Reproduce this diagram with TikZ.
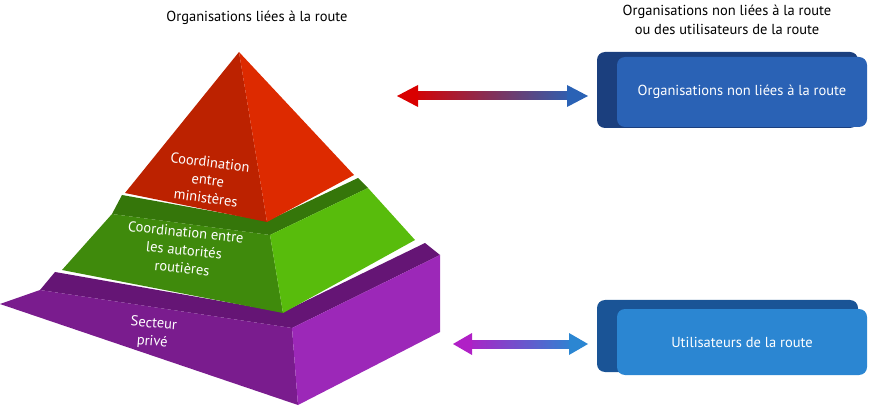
\documentclass[tikz,border=0pt]{standalone}
\usepackage{fontspec}
\setmainfont{PT Sans}
\usetikzlibrary{arrows.meta,shadings}
\definecolor{redL}{HTML}{BC2200}\definecolor{redR}{HTML}{DD2A00}
\definecolor{grnL}{HTML}{3F8A0C}\definecolor{grnR}{HTML}{58BC0C}\definecolor{grnT}{HTML}{35760A}
\definecolor{purL}{HTML}{7A1C8E}\definecolor{purR}{HTML}{9C28B8}\definecolor{purT}{HTML}{651575}
\definecolor{boxA}{HTML}{2A62B5}\definecolor{boxAd}{HTML}{1B3F7E}
\definecolor{boxB}{HTML}{2B86D2}\definecolor{boxBd}{HTML}{1A5496}
\begin{document}
\begin{tikzpicture}[x=1pt,y=-1pt,
  lbl/.style={text=white,font=\fontsize{14.5}{18}\selectfont,align=center,inner sep=0pt},
  ttl/.style={font=\fontsize{14.5}{19}\selectfont,align=center},
  boxfront/.style={rounded corners=8pt}]
\useasboundingbox (0,0) rectangle (876,406);
% purple
\fill[purT] (55,272)--(283,312)--(425,243)--(440,255)--(292,328)--(40,290)--cycle;
\fill[purL] (40,290)--(292,328)--(298,405)--(0,304)--cycle;
\fill[purR] (292,328)--(440,255)--(440,332)--(298,405)--cycle;
% green
\fill[grnT] (122,195)--(267,221)--(358,178)--(368,188)--(270,235)--(112,214)--cycle;
\fill[grnL] (112,214)--(270,235)--(283,313)--(62,270)--cycle;
\fill[grnR] (270,235)--(368,188)--(415,240)--(283,313)--cycle;
% red
\fill[redL] (239,52)--(125,193)--(267,222)--cycle;
\fill[redR] (239,52)--(267,222)--(354,175)--cycle;
\node[lbl,rotate=-7] (t1) at (208,180) {Coordination\\entre\\ministères};
\node[lbl,rotate=-6] (t2) at (184,250) {Coordination entre\\les autorités\\routières};
\node[lbl,rotate=-5] (t3) at (153,333) {Secteur\\privé};
\node[ttl] (h1) at (257,18) {Organisations liées à la route};
\node[ttl] (h2) at (727,20) {Organisations non liées à la route\\ou des utilisateurs de la route};
% boxes
\fill[boxAd,rounded corners=8pt] (597,52) rectangle (858,128);
\node[boxfront,fill=boxA,minimum width=250pt,minimum height=70pt,text=white,font=\fontsize{14.5}{17}\selectfont] (b1) at (742,92) {Organisations non liées à la route};
\fill[boxBd,rounded corners=8pt] (597,300) rectangle (858,372);
\node[boxfront,fill=boxB,minimum width=250pt,minimum height=66pt,text=white,font=\fontsize{14.5}{17}\selectfont] (b2) at (742,342) {Utilisateurs de la route};
% arrows
\shade[left color=red!85!black,right color=boxA] (410,92) rectangle (575,100);
\fill[red!85!black] (397,96)--(418,85)--(418,107)--cycle;
\fill[boxA] (588,96)--(567,85)--(567,107)--cycle;
\shade[left color=purR!80!magenta,right color=boxB] (465,340) rectangle (575,348);
\fill[purR!80!magenta] (453,344)--(472,333)--(472,355)--cycle;
\fill[boxB] (588,344)--(569,333)--(569,355)--cycle;
\end{tikzpicture}
\end{document}
